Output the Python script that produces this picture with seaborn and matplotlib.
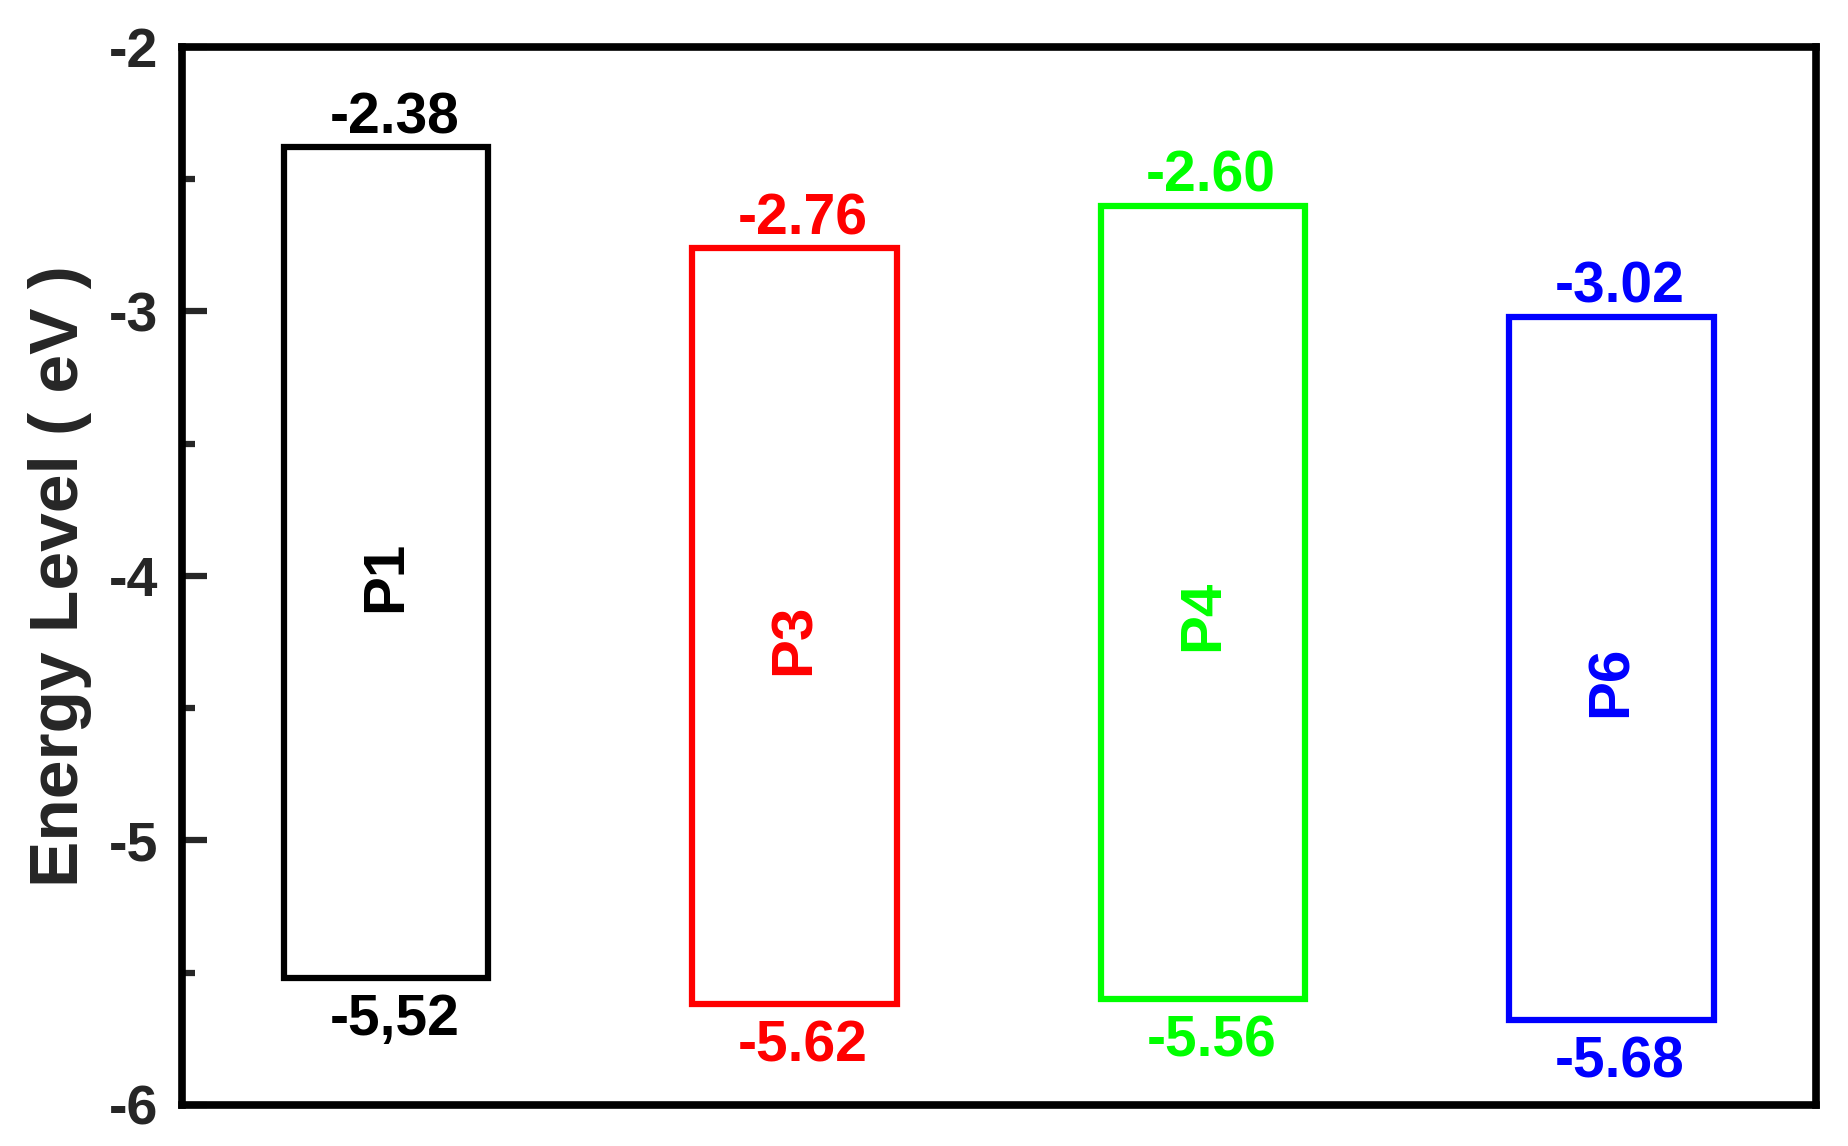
import numpy as np
import pandas as pd
import matplotlib
matplotlib.use("Agg")
import matplotlib.pyplot as plt
import seaborn as sns

# energy levels (eV); the P4 box is drawn a bit below its label
polymers = ["P1", "P3", "P4", "P6"]
lumo = [-2.38, -2.76, -2.60, -3.02]
homo = [-5.52, -5.62, -5.60, -5.68]
lumo_text = ["-2.38", "-2.76", "-2.60", "-3.02"]
homo_text = ["-5,52", "-5.62", "-5.56", "-5.68"]
colors = ["#000000", "#ff0000", "#00ff00", "#0000ff"]

df = pd.DataFrame({
    "polymer": polymers,
    "gap": np.array(lumo) - np.array(homo),
})

sns.set_style("ticks")
plt.rcParams["font.family"] = ["Liberation Sans", "DejaVu Sans"]
plt.rcParams["font.weight"] = "bold"
plt.rcParams["axes.unicode_minus"] = False

fig, ax = plt.subplots(figsize=(18.49, 11.46), dpi=100)
fig.subplots_adjust(left=0.0984, right=0.982, bottom=0.0358, top=0.959)

sns.barplot(data=df, x="polymer", y="gap", ax=ax, width=0.5, fill=False,
            color="black", linewidth=4.5, bottom=homo, errorbar=None)

# colour each box edge
for patch, c in zip(ax.patches, colors):
    patch.set_edgecolor(c)
    patch.set_facecolor("none")

# value labels above/below each box and the polymer name inside
for i, name in enumerate(polymers):
    c = colors[i]
    ax.annotate(lumo_text[i], (i + 0.02, lumo[i]), xytext=(0, 10),
                textcoords="offset points", ha="center", va="baseline",
                fontsize=41, fontweight="bold", color=c)
    ax.annotate(homo_text[i], (i + 0.02, homo[i]), xytext=(0, -41),
                textcoords="offset points", ha="center", va="baseline",
                fontsize=41, fontweight="bold", color=c)
    mid = (lumo[i] + homo[i]) / 2 - 0.05
    ax.text(i, mid, name, rotation=90, ha="center", va="center",
            fontsize=42, fontweight="bold", color=c)

ax.set_xlim(-0.5, 3.5)
ax.set_ylim(-6, -2)
ax.set_yticks([-2, -3, -4, -5, -6])
ax.set_yticklabels(["-2", "-3", "-4", "-5", "-6"])
ax.set_yticks([-2.5, -3.5, -4.5, -5.5], minor=True)
ax.set_xticks([])
ax.set_xlabel("")
ax.set_ylabel("Energy Level ( eV )", fontsize=50, fontweight="bold", labelpad=12)

ax.tick_params(axis="y", which="major", direction="in", length=18, width=4.5,
               labelsize=40, pad=17)
ax.tick_params(axis="y", which="minor", direction="in", length=9, width=4.5)
for lab in ax.get_yticklabels():
    lab.set_fontweight("bold")

for sp in ax.spines.values():
    sp.set_visible(True)
    sp.set_linewidth(5.5)
    sp.set_color("black")

fig.savefig("out.png", dpi=100)
